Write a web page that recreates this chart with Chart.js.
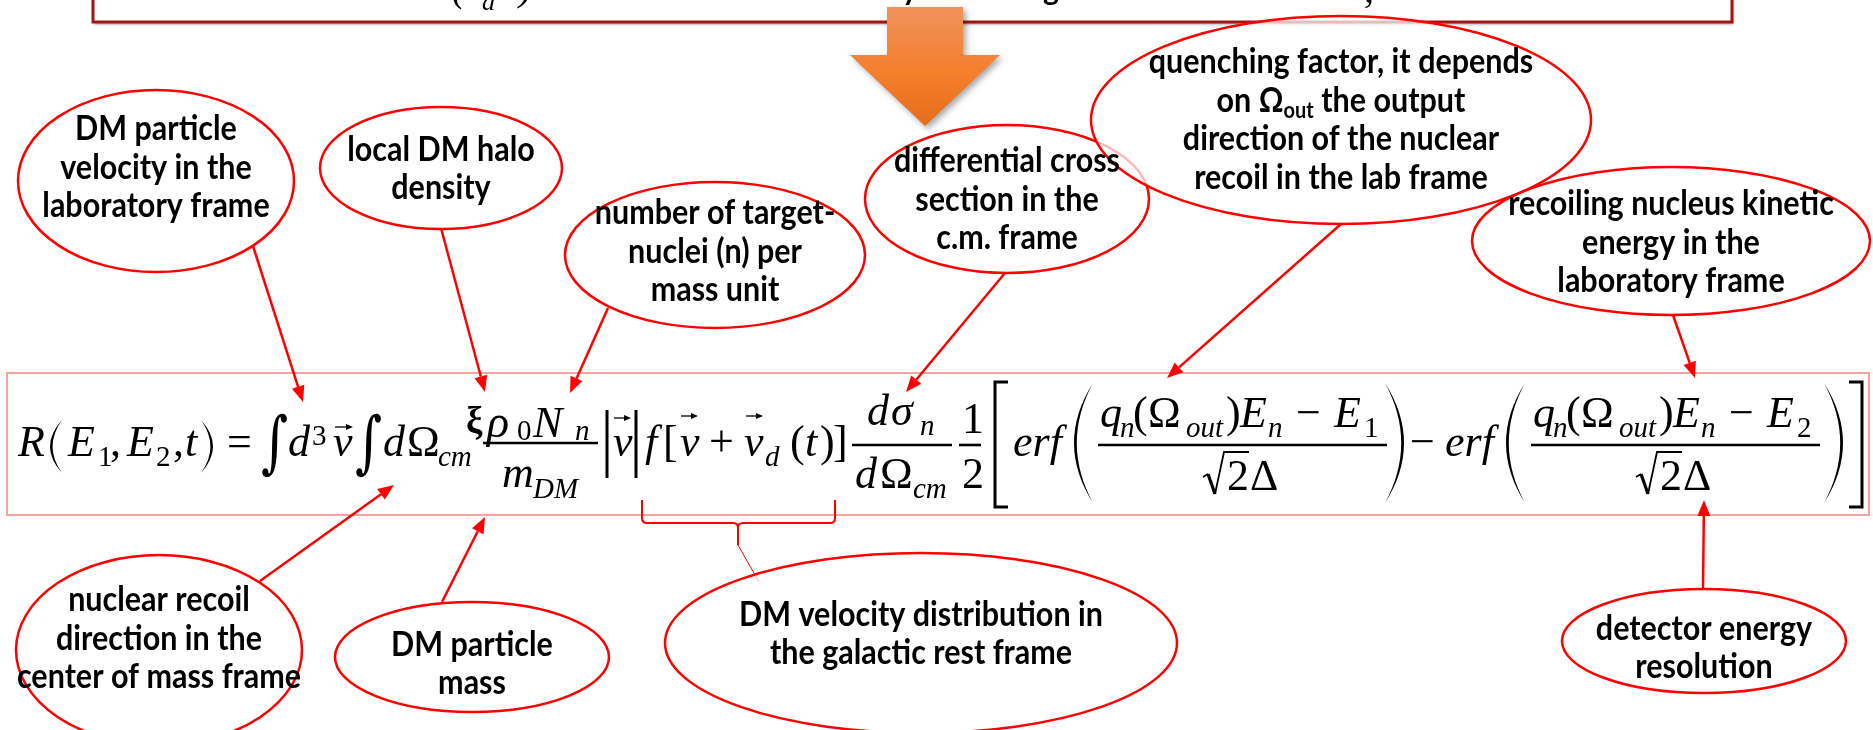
<!DOCTYPE html>
<html><head><meta charset="utf-8">
<script src="https://cdn.jsdelivr.net/npm/chart.js@4.4.0/dist/chart.umd.min.js"></script>
<style>html,body{margin:0;padding:0;background:#fff;overflow:hidden}canvas{display:block}</style>
</head><body>
<canvas id="c" width="1873" height="730"></canvas>
<script>
// ---- callout data (diagram coordinates) ----
const calloutLines = [
  ["DM particle","velocity in the","laboratory frame"],
  ["local DM halo","density"],
  ["number of target-","nuclei (n) per","mass unit"],
  ["differential cross","section in the","c.m. frame"],
  ["quenching factor, it depends","on Ω{out} the output","direction of the nuclear","recoil in the lab frame"],
  ["recoiling nucleus kinetic","energy in the","laboratory frame"],
  ["nuclear recoil","direction in the","center of mass frame"],
  ["DM particle","mass"],
  ["DM velocity distribution in","the galactic rest frame"],
  ["detector energy","resolution"]
];
const calloutCX = [156,441,715,1007,1341,1671,159,472,921,1704];
const calloutCY = [181,168,255,199,120,241,650,657,643,641];
const calloutRX = [138,121,150,142,250,199,143,137,256,142];
const calloutRY = [91,61,73,74,104,74,95,55,90,52];
const labelCY   = [168,169,252,200,120,243,639,664,634,648];
const arrowFromX = [253,441,608,1005,1341,1673,260,442,1703];
const arrowFromY = [246,228,308,273,224,315,581,602,590];
const arrowToX   = [303,485,570,906,1167,1695,394,485,1704];
const arrowToY   = [402,392,393,392,378,378,485,517,500];

const SERIF = '"Liberation Serif","Times New Roman","DejaVu Serif",serif';
const SANS = 'Lato,"Open Sans","DejaVu Sans",sans-serif';
const RED = '#FF0000';

const diagramPlugin = {
  id: 'diagram',
  afterDraw(chart) {
    const ctx = chart.ctx;
    const xs = chart.scales.x, ys = chart.scales.y;
    const X = v => xs.getPixelForValue(v);
    const Y = v => ys.getPixelForValue(v);
    ctx.save();
    ctx.textAlign = 'left';
    ctx.textBaseline = 'alphabetic';

    // ---- top box (cut off) ----
    ctx.save();
    ctx.shadowColor = 'rgba(0,0,0,0.45)';
    ctx.shadowOffsetY = 2; ctx.shadowOffsetX = 1; ctx.shadowBlur = 3;
    ctx.fillStyle = '#fff';
    ctx.fillRect(X(93), Y(-20), X(1732)-X(93), Y(22)-Y(-20));
    ctx.restore();
    ctx.strokeStyle = '#A31515'; ctx.lineWidth = 3;
    ctx.strokeRect(X(93), Y(-20), X(1732)-X(93), Y(22)-Y(-20));
    ctx.fillStyle = '#000';
    const T = (txt, x, y, size, style, fam) => { ctx.font = `${style||''} ${size}px ${fam||SERIF}`; ctx.fillText(txt, X(x), Y(y)); };
    T('(', 452, 1, 40, 'italic'); T('d', 482, 10, 26, 'italic'); T(')', 519, 0, 40, 'italic');
    ctx.font = `bold 30px ${SANS}`;
    ctx.fillText('y', X(902), Y(0)); ctx.fillText('g', X(1043), Y(0));
    T(',', 1364, 2, 40, 'italic');

    // ---- orange arrow ----
    ctx.save();
    const g = ctx.createLinearGradient(0, Y(7), 0, Y(126));
    g.addColorStop(0, '#F0925C'); g.addColorStop(0.55, '#F47F2C'); g.addColorStop(1, '#E56D1B');
    ctx.fillStyle = g;
    ctx.shadowColor = 'rgba(0,0,0,0.35)'; ctx.shadowOffsetX = 3; ctx.shadowOffsetY = 3; ctx.shadowBlur = 6;
    ctx.beginPath();
    ctx.moveTo(X(887),Y(7)); ctx.lineTo(X(963),Y(7)); ctx.lineTo(X(963),Y(55)); ctx.lineTo(X(1000),Y(55));
    ctx.lineTo(X(925),Y(126)); ctx.lineTo(X(850),Y(55)); ctx.lineTo(X(887),Y(55)); ctx.closePath();
    ctx.fill();
    ctx.restore();

    // ---- equation box ----
    ctx.strokeStyle = '#F6A3A3'; ctx.lineWidth = 2;
    ctx.strokeRect(X(7), Y(373), X(1869)-X(7), Y(515)-Y(373));

    // ---- equation ----
    ctx.fillStyle = '#000'; ctx.strokeStyle = '#000';
    const I = 'italic', U = '';
    const tall = (ch, x, top, bot, size, style, fam) => {
      ctx.font = `${style||''} ${size}px ${fam||SERIF}`;
      const m = ctx.measureText(ch);
      const a = m.actualBoundingBoxAscent, d = m.actualBoundingBoxDescent;
      const s = (Y(bot)-Y(top))/(a+d);
      ctx.save(); ctx.translate(X(x), Y(top)); ctx.scale(1, s); ctx.fillText(ch, 0, a); ctx.restore();
    };
    const line = (x1,y1,x2,y2,w) => { ctx.lineWidth = w; ctx.beginPath(); ctx.moveTo(X(x1),Y(y1)); ctx.lineTo(X(x2),Y(y2)); ctx.stroke(); };
    const vec = (x1,x2,y) => {
      line(x1,y,x2-4,y,1.3);
      ctx.beginPath(); ctx.moveTo(X(x2),Y(y)); ctx.lineTo(X(x2-7),Y(y-3)); ctx.lineTo(X(x2-7),Y(y+3)); ctx.closePath(); ctx.fill();
    };
    const bracket = (xv, xs2, top, bot) => {
      ctx.lineWidth = 3; ctx.beginPath();
      ctx.moveTo(X(xs2),Y(top)); ctx.lineTo(X(xv),Y(top)); ctx.lineTo(X(xv),Y(bot)); ctx.lineTo(X(xs2),Y(bot)); ctx.stroke();
    };
    const paren = (xb, xt, top, bot, thick) => {
      const mid = (top+bot)/2, dir = xt > xb ? 1 : -1;
      const c1 = 2*xb - xt, c2 = 2*(xb + dir*thick) - xt;
      ctx.beginPath();
      ctx.moveTo(X(xt),Y(top));
      ctx.quadraticCurveTo(X(c1),Y(mid),X(xt),Y(bot));
      ctx.quadraticCurveTo(X(c2),Y(mid),X(xt),Y(top));
      ctx.fill();
    };
    const radical = (x, top, bot, barEnd) => {
      ctx.lineWidth = 1.6; ctx.beginPath();
      ctx.moveTo(X(x),Y(bot-17)); ctx.lineTo(X(x+5),Y(bot-20)); ctx.stroke();
      ctx.lineWidth = 3.2; ctx.beginPath(); ctx.moveTo(X(x+5),Y(bot-20)); ctx.lineTo(X(x+12),Y(bot)); ctx.stroke();
      ctx.lineWidth = 1.8; ctx.beginPath(); ctx.moveTo(X(x+12),Y(bot)); ctx.lineTo(X(x+21),Y(top)); ctx.lineTo(X(barEnd),Y(top)); ctx.stroke();
    };

    const eq = [
      ['R',18,456,44,I],
      ['E',68,456,44,I],['1',98,466,29,U],[',',110,456,44,U],
      ['E',127,456,44,I],['2',156,466,29,U],[',',173,456,44,U],
      ['t',185,456,44,I],
      ['=',227,456,44,U],
      ['d',288,456,44,I],['3',312,445,29,U],['v',333,456,44,I],
      ['d',383,456,44,I],['Ω',407,456,44,U],['cm',438,466,29,I],
      ['ρ',487,437,46,I],['0',517,440,29,U],['N',533,437,44,I],['n',575,440,29,I],
      ['m',502,487,44,I],['DM',533,498,29,I],
      ['v',613,456,44,I],
      ['f',645,456,44,I],['[',663,456,44,U],['v',680,456,44,I],['+',709,456,44,U],['v',744,456,44,I],['d',765,466,29,I],
      ['(',790,456,44,U],['t',805,456,44,I],[')',820,456,44,U],[']',833,456,44,U],
      ['d',867,425,44,I],['σ',891,425,44,I],['n',920,435,29,I],
      ['d',855,488,44,I],['Ω',880,488,44,U],['cm',913,498,29,I],
      ['1',962,433,44,U],['2',962,488,44,U],
      ['erf',1013,456,44,I],
      ['−',1410,456,44,U],['erf',1445,456,44,I]
    ];
    const frac = (dx, k) => [
      ['q',1100+dx,427,44,I],['n',1120+dx,437,29,I],['(',1133+dx,427,44,U],['Ω',1148+dx,427,44,U],['out',1186+dx,437,29,I],
      [')',1226+dx,427,44,U],['E',1240+dx,427,44,I],['n',1268+dx,437,29,I],['−',1296+dx,427,44,U],['E',1334+dx,427,44,I],[k,1364+dx,437,29,U],
      ['2',1227+dx,490,44,U],['Δ',1250+dx,490,44,U]
    ];
    eq.push(...frac(0,'1'), ...frac(433,'2'));
    eq.forEach(([t,x,y,s,st]) => T(t,x,y,s,st));
    ctx.font = `bold 37px ${SERIF}`; ctx.fillText('ξ', X(466), Y(433));
    paren(50, 62, 420, 473, 2.6); paren(213, 201, 420, 473, 2.6);
    tall('∫',261,413,478,52,U,'"DejaVu Serif",serif'); tall('∫',355,413,478,52,U,'"DejaVu Serif",serif');
    line(607,410,607,478,3); line(636,410,636,478,3);
    paren(1074, 1093, 383, 503, 2.8); paren(1404, 1385, 383, 503, 2.8);
    paren(1506, 1525, 383, 503, 2.8); paren(1843, 1824, 383, 503, 2.8);
    bracket(995,1008,382,507); bracket(1862,1849,382,507);
    vec(335,353,427); vec(614,631,418); vec(681,698,416); vec(746,763,416);
    line(483,443,598,443,2.6); line(852,445,952,445,2.6); line(959,445,981,445,2.6);
    line(1098,445,1387,445,2.6); line(1531,445,1820,445,2.6);
    radical(1203,452,494,1249); radical(1636,452,494,1682);

    // ---- brace under f[...] ----
    ctx.strokeStyle = RED; ctx.lineWidth = 2;
    ctx.beginPath();
    ctx.moveTo(X(642),Y(500)); ctx.lineTo(X(642),Y(518)); ctx.quadraticCurveTo(X(642),Y(523),X(647),Y(523));
    ctx.lineTo(X(733),Y(523)); ctx.quadraticCurveTo(X(738),Y(523),X(738),Y(528)); ctx.lineTo(X(738),Y(545));
    ctx.moveTo(X(738),Y(528)); ctx.quadraticCurveTo(X(738),Y(523),X(743),Y(523));
    ctx.lineTo(X(830),Y(523)); ctx.quadraticCurveTo(X(835),Y(523),X(835),Y(518)); ctx.lineTo(X(835),Y(500));
    ctx.stroke();
    ctx.lineWidth = 1; ctx.beginPath(); ctx.moveTo(X(738),Y(545)); ctx.lineTo(X(759),Y(582)); ctx.stroke();

    // ---- callout ellipses ----
    for (let i = 0; i < calloutCX.length; i++) {
      const cx = X(calloutCX[i]), cy = Y(calloutCY[i]);
      const rx = X(calloutCX[i]+calloutRX[i]) - cx, ry = Y(calloutCY[i]+calloutRY[i]) - cy;
      ctx.beginPath(); ctx.ellipse(cx, cy, rx, Math.abs(ry), 0, 0, Math.PI*2);
      ctx.fillStyle = 'rgba(255,255,255,0.72)'; ctx.fill();
      ctx.strokeStyle = RED; ctx.lineWidth = 2.5; ctx.stroke();
    }

    // ---- arrows ----
    ctx.strokeStyle = RED; ctx.fillStyle = RED;
    for (let i = 0; i < arrowFromX.length; i++) {
      const x1 = X(arrowFromX[i]), y1 = Y(arrowFromY[i]), x2 = X(arrowToX[i]), y2 = Y(arrowToY[i]);
      const ang = Math.atan2(y2-y1, x2-x1), L = 16, W = 6.5;
      const bx = x2 - L*Math.cos(ang), by = y2 - L*Math.sin(ang);
      ctx.lineWidth = 2.5; ctx.beginPath(); ctx.moveTo(x1,y1); ctx.lineTo(bx,by); ctx.stroke();
      ctx.beginPath(); ctx.moveTo(x2,y2);
      ctx.lineTo(bx + W*Math.sin(ang), by - W*Math.cos(ang));
      ctx.lineTo(bx - W*Math.sin(ang), by + W*Math.cos(ang));
      ctx.closePath(); ctx.fill();
    }

    // ---- callout texts ----
    ctx.fillStyle = '#000'; ctx.textBaseline = 'middle';
    const F = `bold 30.5px ${SANS}`, FS = `bold 20px ${SANS}`;
    const LH = 38.5, VS = 1.1;
    for (let i = 0; i < calloutLines.length; i++) {
      const lines = calloutLines[i];
      const n = lines.length;
      lines.forEach((ln, j) => {
        const cy = Y(labelCY[i] + (j - (n-1)/2) * LH);
        const parts = []; const re = /(.)\{([^}]+)\}/g; let last = 0, m;
        while ((m = re.exec(ln))) {
          if (m.index > last) parts.push({t: ln.slice(last, m.index)});
          parts.push({t: m[1]}); parts.push({t: m[2], sub: true}); last = re.lastIndex;
        }
        if (last < ln.length) parts.push({t: ln.slice(last)});
        let tot = 0;
        parts.forEach(p => { ctx.font = p.sub ? FS : F; p.w = ctx.measureText(p.t).width; tot += p.w; });
        let x = X(calloutCX[i]) - tot/2;
        ctx.save(); ctx.translate(0, cy); ctx.scale(1, VS);
        parts.forEach(p => { ctx.font = p.sub ? FS : F; ctx.fillText(p.t, x, p.sub ? 9 : 0); x += p.w; });
        ctx.restore();
      });
    }
    ctx.restore();
  }
};

new Chart(document.getElementById('c'), {
  type: 'scatter',
  data: { datasets: [{ data: calloutCX.map((x, i) => ({x, y: calloutCY[i]})), pointRadius: 0, showLine: false }] },
  options: {
    responsive: false, animation: false, events: [],
    layout: { padding: 0 },
    plugins: { legend: { display: false }, tooltip: { enabled: false } },
    scales: {
      x: { type: 'linear', min: 0, max: 1873, display: false },
      y: { type: 'linear', min: 0, max: 730, reverse: true, display: false }
    }
  },
  plugins: [diagramPlugin]
});
</script>
</body></html>
